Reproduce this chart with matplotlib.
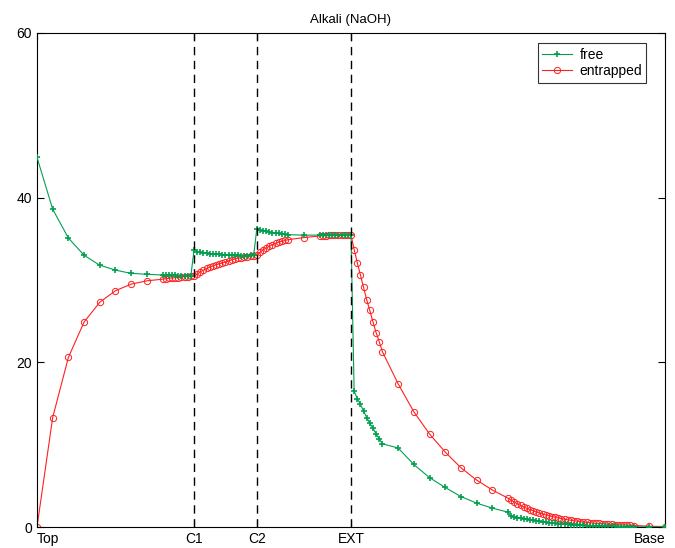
import matplotlib
matplotlib.use("Agg")
import matplotlib.pyplot as plt

plt.rcParams["font.family"] = ["Liberation Sans", "DejaVu Sans"]

# node positions along the column (Top=0 ... Base=40)
x = [0, 1, 2, 3, 4, 5, 6, 7, 8,
     8.2, 8.4, 8.6, 8.8, 9.0, 9.2, 9.4, 9.6, 9.8,
     10.0, 10.2, 10.4, 10.6, 10.8, 11.0, 11.2, 11.4, 11.6, 11.8,
     12.0, 12.2, 12.4, 12.6, 12.8, 13.0, 13.2, 13.4, 13.6, 13.8,
     14.0, 14.2, 14.4, 14.6, 14.8, 15.0, 15.2, 15.4, 15.6, 15.8, 16.0,
     17.0,
     18.0, 18.2, 18.4, 18.6, 18.8, 19.0, 19.2, 19.4, 19.6, 19.8, 20.0,
     20.2, 20.4, 20.6, 20.8, 21.0, 21.2, 21.4, 21.6, 21.8, 22.0,
     23, 24, 25, 26, 27, 28, 29, 30,
     30.2, 30.4, 30.6, 30.8, 31.0, 31.2, 31.4, 31.6, 31.8, 32.0,
     32.2, 32.4, 32.6, 32.8, 33.0, 33.2, 33.4, 33.6, 33.8, 34.0,
     34.2, 34.4, 34.6, 34.8, 35.0, 35.2, 35.4, 35.6, 35.8, 36.0,
     36.2, 36.4, 36.6, 36.8, 37.0, 37.2, 37.4, 37.6, 37.8, 38.0,
     39, 40]

free = [44.9, 38.6, 35.1, 33.0, 31.8, 31.2, 30.8, 30.7, 30.6,
        30.6, 30.6, 30.55, 30.55, 30.5, 30.5, 30.5, 30.5, 30.5,
        33.6, 33.45, 33.35, 33.3, 33.25, 33.2, 33.15, 33.1, 33.1, 33.05,
        33.05, 33.0, 33.0, 33.0, 33.0, 32.95, 32.95, 32.95, 33.0, 33.0,
        36.2, 36.05, 35.95, 35.9, 35.8, 35.75, 35.7, 35.65, 35.6, 35.55, 35.5,
        35.45,
        35.45, 35.45, 35.45, 35.45, 35.5, 35.5, 35.5, 35.5, 35.5, 35.5, 35.5,
        16.5, 15.6, 14.9, 14.1, 13.3, 12.6, 12.0, 11.3, 10.7, 10.1,
        9.6, 7.6, 6.0, 4.8, 3.7, 2.9, 2.3, 1.8,
        1.30, 1.22, 1.14, 1.06, 0.99, 0.92, 0.86, 0.80, 0.74, 0.68,
        0.63, 0.58, 0.53, 0.49, 0.45, 0.41, 0.38, 0.35, 0.32, 0.29,
        0.26, 0.24, 0.22, 0.20, 0.18, 0.16, 0.15, 0.13, 0.12, 0.11,
        0.10, 0.09, 0.08, 0.07, 0.06, 0.05, 0.05, 0.04, 0.04, 0.03,
        0.02, 0.01]

entrapped = [0.0, 13.3, 20.6, 24.9, 27.3, 28.7, 29.5, 29.9, 30.1,
             30.15, 30.2, 30.25, 30.3, 30.3, 30.35, 30.4, 30.4, 30.45,
             30.45, 30.7, 31.0, 31.2, 31.4, 31.55, 31.7, 31.85, 31.95, 32.05,
             32.2, 32.3, 32.45, 32.55, 32.65, 32.7, 32.8, 32.85, 32.9, 32.95,
             33.0, 33.35, 33.65, 33.9, 34.1, 34.3, 34.45, 34.6, 34.7, 34.8, 34.9,
             35.15,
             35.35, 35.37, 35.4, 35.42, 35.44, 35.46, 35.47, 35.48, 35.49, 35.5, 35.5,
             33.7, 32.1, 30.6, 29.1, 27.6, 26.3, 24.9, 23.6, 22.5, 21.3,
             17.4, 14.0, 11.3, 9.1, 7.2, 5.7, 4.5, 3.5,
             3.26, 3.03, 2.82, 2.62, 2.44, 2.27, 2.11, 1.96, 1.83, 1.70,
             1.58, 1.47, 1.37, 1.27, 1.18, 1.10, 1.02, 0.95, 0.88, 0.82,
             0.76, 0.71, 0.66, 0.61, 0.57, 0.53, 0.49, 0.46, 0.43, 0.40,
             0.37, 0.34, 0.32, 0.30, 0.28, 0.26, 0.24, 0.22, 0.20, 0.18,
             0.10, 0.05]

tick_pos = [0, 10, 14, 20, 40]
tick_labels = ["Top", "C1", "C2", "EXT", "Base"]
boundaries = [10, 14, 20]

GREEN = "#00a050"
RED = "#ff2020"

fig = plt.figure(figsize=(6.75, 5.48), dpi=100)
ax = fig.add_axes([0.0548, 0.0383, 0.9304, 0.9015])

ax.plot(x, free, color=GREEN, lw=0.8, marker="+", ms=5, mew=1.2,
        mec=GREEN, label="free", zorder=3)
ax.plot(x, entrapped, color=RED, lw=0.8, marker="o", ms=4.5, mew=0.7,
        mfc="none", mec=RED, label="entrapped", zorder=2)

for b in boundaries:
    ax.axvline(b, color="black", ls=(0, (6, 4)), lw=1.0, zorder=4)

ax.set_xlim(0, 40)
ax.set_ylim(0, 60)
ax.set_yticks([0, 20, 40, 60])
ax.set_xticks(tick_pos)
ax.set_xticklabels(tick_labels)
ax.tick_params(direction="in", top=True, right=True, labelsize=10,
               length=5, width=0.8)
labels = ax.get_xticklabels()
labels[0].set_ha("left")
labels[-1].set_ha("right")
for s in ax.spines.values():
    s.set_linewidth(0.8)

ax.set_title("Alkali (NaOH)", fontsize=9.5, pad=7)

leg = ax.legend(loc="upper right", bbox_to_anchor=(0.981, 0.993), fontsize=10,
                frameon=True, fancybox=False, handlelength=2.2,
                borderpad=0.3, labelspacing=0.2, handletextpad=0.5)
leg.get_frame().set_edgecolor("black")
leg.get_frame().set_linewidth(0.8)

fig.savefig("out.png")
